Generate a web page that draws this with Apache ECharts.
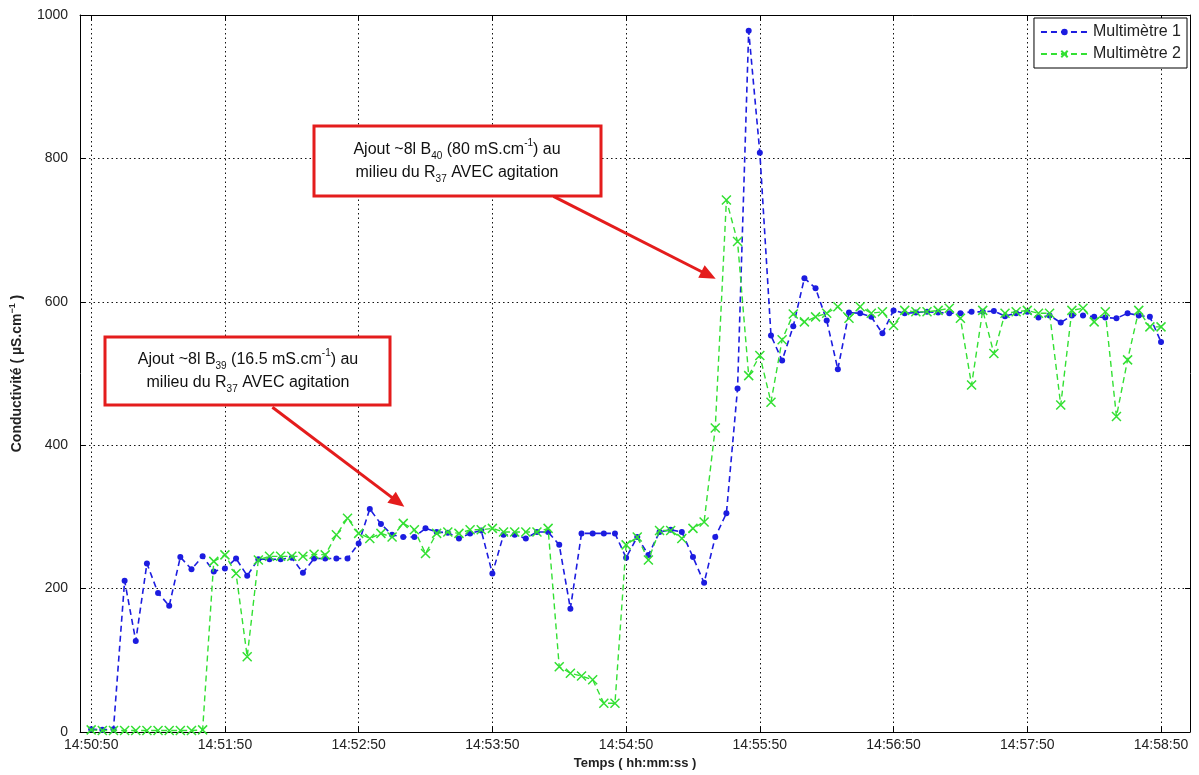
<!DOCTYPE html>
<html><head><meta charset="utf-8">
<script src="https://cdn.jsdelivr.net/npm/echarts@6/dist/echarts.min.js"></script>
<style>html,body{margin:0;padding:0;background:#fff}#c{width:1199px;height:775px}</style>
</head><body><div id="c"></div>
<script>
// seconds after 14:50:50
const times = [0,5,10,15,20,25,30,35,40,45,50,55,60,65,70,75,80,85,90,95,100,105,110,115,120,125,130,135,140,145,150,155,160,165,170,175,180,185,190,195,200,205,210,215,220,225,230,235,240,245,250,255,260,265,270,275,280,285,290,295,300,305,310,315,320,325,330,335,340,345,350,355,360,365,370,375,380,385,390,395,400,405,410,415,420,425,430,435,440,445,450,455,460,465,470,475,480];
const multimetre1 = [4,3,4,211,127,235,194,176,244,227,245,
  224,228,242,218,241,241,241,243,222,242,
  242,242,242,263,311,290,275,272,272,284,
  279,278,270,277,281,221,275,275,270,279,
  279,261,172,277,277,277,277,243,272,247,
  279,282,279,244,208,272,305,479,978,808,
  553,518,566,633,619,574,506,585,584,579,
  556,588,584,585,586,585,584,584,586,586,
  587,580,584,586,578,581,571,581,581,579,
  578,577,584,581,579,544];
const multimetre2 = [3,2,2,2,2,2,2,2,2,2,3,
  238,247,221,105,240,245,245,245,245,248,
  247,275,298,277,270,277,272,291,282,249,
  277,279,277,282,282,284,279,279,279,279,
  284,91,82,78,73,40,40,261,272,240,
  281,281,270,284,293,424,742,684,497,525,
  460,547,583,572,579,584,593,577,593,584,
  586,567,588,586,586,588,591,577,484,588,
  528,584,586,588,584,584,456,588,591,572,
  586,440,519,588,565,565];
const xTickSeconds = [0,60,120,180,240,300,360,420,480];
const startClock = [14,50,50];
// annotation arrows in data coordinates [seconds, value]
const arrowTails = [[207.4,747],[81.3,453]];
const arrowTips = [[280.2,632],[140.5,314]];

const FONT = '"Liberation Sans", Arial, sans-serif';
const BLUE = '#1c1ce0', GREEN = '#33e033', RED = '#e41c1c';
const BASE = startClock[0]*3600 + startClock[1]*60 + startClock[2];
function two(n){ return (n<10?'0':'') + n; }
function fmt(t){ const s = BASE + Math.round(t); return two(Math.floor(s/3600)) + ':' + two(Math.floor(s%3600/60)) + ':' + two(s%60); }

const chart = echarts.init(document.getElementById('c'));
const gridDot = {show:true, lineStyle:{color:'#111', type:[1.5,3], width:1}};
const option = {
  animation:false,
  backgroundColor:'#fff',
  textStyle:{fontFamily:FONT},
  grid:{left:80, right:9, top:15, bottom:43},
  legend:{
    right:12, top:18, orient:'vertical', backgroundColor:'#fff', borderColor:'#000', borderWidth:1,
    padding:[6,6,6,6], itemGap:6, itemWidth:47, itemHeight:8, borderRadius:0,
    textStyle:{fontSize:16, color:'#222', fontFamily:FONT},
    data:['Multimètre 1','Multimètre 2']
  },
  xAxis:[{
    type:'value', min:-5, max:493, position:'bottom',
    name:'Temps ( hh:mm:ss )', nameLocation:'middle', nameGap:25,
    nameTextStyle:{fontSize:13, fontWeight:'bold', color:'#222', fontFamily:FONT},
    axisLine:{show:true, onZero:false, lineStyle:{color:'#000', width:1}},
    axisTick:{show:true, inside:true, length:5, customValues:xTickSeconds, lineStyle:{color:'#000'}},
    axisLabel:{customValues:xTickSeconds, formatter:fmt, color:'#222', fontSize:14, margin:6, fontFamily:FONT},
    splitLine:gridDot
  },{
    type:'value', min:-5, max:493, position:'top',
    axisLine:{show:true, onZero:false, lineStyle:{color:'#000', width:1}},
    axisTick:{show:true, inside:true, length:5, customValues:xTickSeconds, lineStyle:{color:'#000'}},
    axisLabel:{show:false}, splitLine:{show:false}
  }],
  yAxis:[{
    type:'value', min:0, max:1000, interval:200, position:'left',
    name:'Conductivité ( µS.cm{sup|−1} )', nameLocation:'middle', nameGap:46, nameRotate:90,
    nameTextStyle:{fontSize:14, fontWeight:'bold', color:'#222', fontFamily:FONT, lineHeight:18,
      rich:{sup:{fontSize:9, fontWeight:'bold', verticalAlign:'top', lineHeight:10, color:'#222', fontFamily:FONT}}},
    axisLine:{show:true, onZero:false, lineStyle:{color:'#000', width:1}},
    axisTick:{show:true, inside:true, length:5, lineStyle:{color:'#000'}},
    axisLabel:{color:'#222', fontSize:14, margin:12, fontFamily:FONT, formatter:v=>String(v)},
    splitLine:gridDot
  },{
    type:'value', min:0, max:1000, interval:200, position:'right',
    axisLine:{show:true, onZero:false, lineStyle:{color:'#000', width:1}},
    axisTick:{show:true, inside:true, length:5, lineStyle:{color:'#000'}},
    axisLabel:{show:false}, splitLine:{show:false}
  }],
  series:[{
    type:'line', name:'Multimètre 1', xAxisIndex:0, yAxisIndex:0,
    data: times.map((t,i)=>[t, multimetre1[i]]),
    symbol:'circle', symbolSize:6, showAllSymbol:true,
    lineStyle:{color:BLUE, width:1.6, type:[6,4]},
    itemStyle:{color:BLUE, borderWidth:0}, z:3
  },{
    type:'line', name:'Multimètre 2', xAxisIndex:0, yAxisIndex:0,
    data: times.map((t,i)=>[t, multimetre2[i]]),
    symbol:'path://M0,0L10,10M10,0L0,10', symbolSize:9, showAllSymbol:true,
    lineStyle:{color:GREEN, width:1.4, type:[6,4]},
    itemStyle:{color:'rgba(0,0,0,0)', borderColor:GREEN, borderWidth:1.5}, z:4
  }]
};
chart.setOption(option);

function px(p){ return chart.convertToPixel({xAxisIndex:0, yAxisIndex:0}, p); }
const graphics = [];
const boxes = [
  {x:314, y:126, w:287, h:70, cx:457, cy:161,
   text:'Ajout ~8l B{sub|40} (80 mS.cm{sup|-1}) au\nmilieu du R{sub|37} AVEC agitation'},
  {x:105, y:337, w:285, h:68, cx:248, cy:371,
   text:'Ajout ~8l B{sub|39} (16.5 mS.cm{sup|-1}) au\nmilieu du R{sub|37} AVEC agitation'}
];
boxes.forEach(b=>{
  graphics.push({type:'rect', z:50, shape:{x:b.x, y:b.y, width:b.w, height:b.h},
    style:{fill:'#fff', stroke:RED, lineWidth:3}});
  graphics.push({type:'text', z:51, x:b.cx, y:b.cy,
    style:{text:b.text, fill:'#111', font:'16px ' + FONT, align:'center', verticalAlign:'middle', lineHeight:23,
      rich:{sub:{fontSize:10, verticalAlign:'bottom', lineHeight:12, fill:'#111', fontFamily:FONT},
            sup:{fontSize:10, verticalAlign:'top', lineHeight:12, fill:'#111', fontFamily:FONT}}}});
});
arrowTails.forEach((tail,i)=>{
  const a = px(tail), b = px(arrowTips[i]);
  const dx = b[0]-a[0], dy = b[1]-a[1], L = Math.hypot(dx,dy);
  const ux = dx/L, uy = dy/L, nx = -uy, ny = ux;
  const hl = 16, hw = 7;
  const bx = b[0]-ux*hl, by = b[1]-uy*hl;
  graphics.push({type:'line', z:52, shape:{x1:a[0], y1:a[1], x2:bx+ux*2, y2:by+uy*2},
    style:{stroke:RED, lineWidth:3}});
  graphics.push({type:'polygon', z:52, shape:{points:[[b[0],b[1]],[bx+nx*hw,by+ny*hw],[bx-nx*hw,by-ny*hw]]},
    style:{fill:RED}});
});
chart.setOption({graphic:graphics});
</script></body></html>
